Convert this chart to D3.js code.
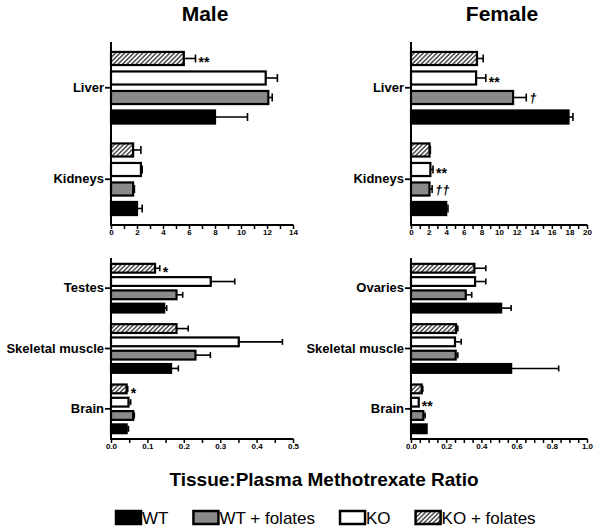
<!DOCTYPE html>
<html><head><meta charset="utf-8">
<script src="https://cdn.jsdelivr.net/npm/d3@7"></script>
<style>body{margin:0;background:#fff}svg{display:block}</style>
</head><body>
<svg id="c" width="600" height="531"></svg>
<script>
const series = ["WT", "WT + folates", "KO", "KO + folates"];
const seriesFill = ["#000", "#8a8a8a", "#fff", "url(#hatch)"];

const maleTopTissues = ["Liver", "Kidneys"];
const maleTopMean = [[8.0, 12.1, 11.9, 5.6], [2.0, 1.7, 2.3, 1.7]];
const maleTopErr  = [[2.5, 0.3, 0.9, 0.9], [0.4, 0.1, 0.1, 0.6]];

const femaleTopTissues = ["Liver", "Kidneys"];
const femaleTopMean = [[17.9, 11.6, 7.4, 7.5], [4.0, 2.1, 2.2, 2.1]];
const femaleTopErr  = [[0.5, 1.5, 1.1, 0.7], [0.2, 0.3, 0.3, 0.1]];

const maleBotTissues = ["Testes", "Skeletal muscle", "Brain"];
const maleBotMean = [[0.146, 0.180, 0.274, 0.121], [0.165, 0.232, 0.351, 0.180], [0.043, 0.061, 0.048, 0.043]];
const maleBotErr  = [[0.007, 0.017, 0.066, 0.013], [0.020, 0.041, 0.120, 0.032], [0.005, 0.003, 0.006, 0.003]];

const femaleBotTissues = ["Ovaries", "Skeletal muscle", "Brain"];
const femaleBotMean = [[0.512, 0.311, 0.364, 0.360], [0.569, 0.254, 0.250, 0.256], [0.089, 0.070, 0.044, 0.061]];
const femaleBotErr  = [[0.057, 0.034, 0.061, 0.065], [0.270, 0.012, 0.035, 0.010], [0.000, 0.010, 0.000, 0.006]];

const maleTopTicks = [0, 2, 4, 6, 8, 10, 12, 14];
const femaleTopTicks = [0, 2, 4, 6, 8, 10, 12, 14, 16, 18, 20];
const maleBotTicks = [0, 0.1, 0.2, 0.3, 0.4, 0.5];
const femaleBotTicks = [0, 0.2, 0.4, 0.6, 0.8, 1.0];

// [panel, tissue index, series index, text]
const annotations = [
  ["maleTop", 0, 3, "**"],
  ["femaleTop", 0, 2, "**"],
  ["femaleTop", 0, 1, "†"],
  ["femaleTop", 1, 2, "**"],
  ["femaleTop", 1, 1, "††"],
  ["maleBot", 0, 3, "*"],
  ["maleBot", 2, 3, "*"],
  ["femaleBot", 2, 2, "**"]
];

const FONT = "'Liberation Sans', Arial, Helvetica, sans-serif";
const svg = d3.select("#c");
const defs = svg.append("defs");
const pat = defs.append("pattern").attr("id", "hatch").attr("patternUnits", "userSpaceOnUse")
  .attr("width", 3.2).attr("height", 3.2).attr("patternTransform", "rotate(45)");
pat.append("rect").attr("width", 3.2).attr("height", 3.2).attr("fill", "#fff");
pat.append("line").attr("x1", 0.8).attr("x2", 0.8).attr("y1", 0).attr("y2", 3.2)
  .attr("stroke", "#4a4a4a").attr("stroke-width", 1.5);

const panels = [
  {id: "maleTop", tissues: maleTopTissues, mean: maleTopMean, err: maleTopErr, ticks: maleTopTicks, max: 14, minor: 1, fmt: d3.format("d"),
   x0: 111, x1: 293, y0: 42, y1: 225, pi: 0.33, po: 0.51, cap: 4},
  {id: "femaleTop", tissues: femaleTopTissues, mean: femaleTopMean, err: femaleTopErr, ticks: femaleTopTicks, max: 20, minor: 1, fmt: d3.format("d"),
   x0: 411, x1: 587, y0: 42, y1: 225, pi: 0.33, po: 0.51, cap: 4},
  {id: "maleBot", tissues: maleBotTissues, mean: maleBotMean, err: maleBotErr, ticks: maleBotTicks, max: 0.5, minor: 0.05, fmt: d3.format(".1f"),
   x0: 111, x1: 293, y0: 258, y1: 439, pi: 0.34, po: 0.44, cap: 3},
  {id: "femaleBot", tissues: femaleBotTissues, mean: femaleBotMean, err: femaleBotErr, ticks: femaleBotTicks, max: 1.0, minor: 0.05, fmt: d3.format(".1f"),
   x0: 411, x1: 587, y0: 258, y1: 439, pi: 0.34, po: 0.44, cap: 3}
];

const drawOrder = [3, 2, 1, 0]; // top to bottom: KO+folates, KO, WT+folates, WT
const scales = {};

panels.forEach(p => {
  const g = svg.append("g");
  const x = d3.scaleLinear().domain([0, p.max]).range([p.x0, p.x1]);
  const y = d3.scaleBand().domain(p.tissues).range([p.y0, p.y1]).paddingInner(0).paddingOuter(0);
  const yi = d3.scaleBand().domain(drawOrder).range([0, y.bandwidth()]).paddingInner(p.pi).paddingOuter(p.po);
  scales[p.id] = {x, y, yi, p};

  const rows = [];
  p.tissues.forEach((t, ti) => series.forEach((s, si) => rows.push({t, ti, si, m: p.mean[ti][si], e: p.err[ti][si]})));

  g.selectAll("rect.bar").data(rows).join("rect")
    .attr("x", x(0)).attr("y", d => y(d.t) + yi(d.si))
    .attr("width", d => x(d.m) - x(0)).attr("height", yi.bandwidth())
    .attr("fill", d => seriesFill[d.si]).attr("stroke", "#000").attr("stroke-width", 2.2);

  const eb = rows.filter(d => d.e > 0);
  g.selectAll("line.err").data(eb).join("line")
    .attr("x1", d => x(d.m)).attr("x2", d => x(d.m + d.e))
    .attr("y1", d => y(d.t) + yi(d.si) + yi.bandwidth() / 2).attr("y2", d => y(d.t) + yi(d.si) + yi.bandwidth() / 2)
    .attr("stroke", "#000").attr("stroke-width", 1.6);
  g.selectAll("line.cap").data(eb).join("line")
    .attr("x1", d => x(d.m + d.e)).attr("x2", d => x(d.m + d.e))
    .attr("y1", d => y(d.t) + yi(d.si) + yi.bandwidth() / 2 - p.cap).attr("y2", d => y(d.t) + yi(d.si) + yi.bandwidth() / 2 + p.cap)
    .attr("stroke", "#000").attr("stroke-width", 1.6);

  // x axis
  const minorVals = d3.range(0, p.max + p.minor / 2, p.minor);
  const ax = g.append("g").attr("transform", `translate(0,${p.y1})`)
    .call(d3.axisBottom(x).tickValues(minorVals).tickSize(4).tickSizeOuter(0)
      .tickFormat(d => p.ticks.some(t => Math.abs(t - d) < 1e-9) ? p.fmt(d) : ""));
  ax.select(".domain").attr("stroke", "#000").attr("stroke-width", 2).attr("d", `M${p.x0 - 1},0H${p.x1 + 0.5}`);
  ax.selectAll(".tick line").attr("stroke", "#000").attr("stroke-width", 1.5);
  ax.selectAll(".tick text").attr("font-family", FONT).attr("font-weight", "bold").attr("font-size", "8px")
    .attr("fill", "#000").attr("dy", "0.6em").attr("y", 5);

  // y axis
  const ay = g.append("g").attr("transform", `translate(${p.x0},0)`)
    .call(d3.axisLeft(y).tickSize(6).tickSizeOuter(0).tickPadding(1));
  ay.select(".domain").attr("stroke", "#000").attr("stroke-width", 2).attr("d", `M0,${p.y0}V${p.y1 + 1}`);
  ay.selectAll(".tick line").attr("stroke", "#000").attr("stroke-width", 1.8);
  ay.selectAll(".tick text").attr("font-family", FONT).attr("font-weight", "bold").attr("font-size", "13px").attr("fill", "#000");
});

// annotations
annotations.forEach(([pid, ti, si, txt]) => {
  const {x, y, yi, p} = scales[pid];
  const t = p.tissues[ti];
  const endVal = p.mean[ti][si] + p.err[ti][si];
  const isDagger = txt.indexOf("†") >= 0;
  svg.append("text")
    .attr("x", x(endVal) + 3)
    .attr("y", y(t) + yi(si) + yi.bandwidth() / 2)
    .attr("dy", isDagger ? "0.38em" : "0.62em")
    .attr("font-family", FONT).attr("font-weight", "bold")
    .attr("font-style", isDagger ? "italic" : "normal")
    .attr("font-size", isDagger ? "13px" : "14px").attr("fill", "#000")
    .text(txt);
});

// titles
svg.append("text").attr("x", 205).attr("y", 21).attr("text-anchor", "middle")
  .attr("font-family", FONT).attr("font-weight", "bold").attr("font-size", "21px").text("Male");
svg.append("text").attr("x", 502).attr("y", 21).attr("text-anchor", "middle")
  .attr("font-family", FONT).attr("font-weight", "bold").attr("font-size", "21px").text("Female");
svg.append("text").attr("x", 324).attr("y", 486).attr("text-anchor", "middle")
  .attr("font-family", FONT).attr("font-weight", "bold").attr("font-size", "19px").text("Tissue:Plasma Methotrexate Ratio");

// legend
let lx = 115;
series.forEach((s, si) => {
  svg.append("rect").attr("x", lx + 1).attr("y", 511).attr("width", 25).attr("height", 13)
    .attr("fill", seriesFill[si]).attr("stroke", "#000").attr("stroke-width", 2.5);
  const t = svg.append("text").attr("x", lx + 27).attr("y", 524)
    .attr("font-family", FONT).attr("font-size", "17px").attr("fill", "#000").text(s);
  lx += 27 + t.node().getComputedTextLength() + 24;
});
</script>
</body></html>
